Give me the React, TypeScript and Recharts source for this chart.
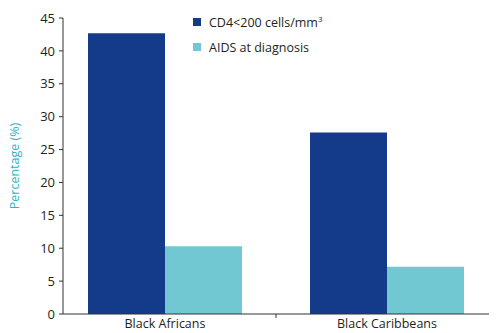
import { BarChart, Bar, XAxis, YAxis } from "recharts";

const categories = ["Black Africans", "Black Caribbeans"];
const cd4Values = [42.7, 27.6];
const aidsValues = [10.3, 7.2];
const yTicks = [0, 5, 10, 15, 20, 25, 30, 35, 40, 45];

const DARK = "#133b8a";
const LIGHT = "#71c8d2";
const TEAL = "#2fb3c2";
const TEXT = "#231f20";
const FONT = "'Open Sans', sans-serif";

const data = categories.map((name, i) => ({
  name,
  cd4: cd4Values[i],
  aids: aidsValues[i],
}));

// band width after the x padding below (426 + 2*9) / 2
const BAND = 222;

function CategoryTick(props: any) {
  const { x, y, payload, index } = props;
  return (
    <g>
      {index < categories.length - 1 && (
        <line x1={x + BAND / 2} x2={x + BAND / 2} y1={y} y2={y + 4} stroke="#333" />
      )}
      <text x={x} y={y + 14} textAnchor="middle" fontSize={12.5} fill={TEXT} fontFamily={FONT}>
        {payload.value}
      </text>
    </g>
  );
}

export default function App() {
  return (
    <div style={{ position: "absolute", left: 0, top: 0, width: 496, height: 333, background: "#fff" }}>
      <BarChart
        width={496}
        height={333}
        data={data}
        margin={{ top: 18, right: 7, bottom: 0, left: 0 }}
        barGap={0}
        barCategoryGap={34}
      >
        <XAxis
          dataKey="name"
          height={19}
          padding={{ left: -9, right: -9 }}
          tickLine={false}
          tickSize={0}
          tickMargin={0}
          axisLine={{ stroke: "#333" }}
          tick={<CategoryTick />}
          interval={0}
        />
        <YAxis
          width={63}
          domain={[0, 45]}
          ticks={yTicks}
          interval={0}
          tickSize={4}
          tickMargin={4}
          axisLine={{ stroke: "#333" }}
          tickLine={{ stroke: "#333" }}
          tick={{ fontSize: 13, fill: TEXT, fontFamily: FONT }}
          label={{
            value: "Percentage (%)",
            angle: -90,
            position: "insideLeft",
            offset: 15,
            style: { textAnchor: "middle", fill: TEAL, fontSize: 12.5, fontFamily: FONT },
          }}
        />
        <Bar dataKey="cd4" fill={DARK} isAnimationActive={false} />
        <Bar dataKey="aids" fill={LIGHT} isAnimationActive={false} />
      </BarChart>
      <div style={{ position: "absolute", left: 193, top: 13, fontFamily: FONT, fontSize: 12.5, color: TEXT }}>
        <div style={{ display: "flex", alignItems: "center", height: 18 }}>
          <span style={{ width: 8, height: 8, background: DARK, marginRight: 8 }} />
          <span>
            CD4&lt;200 cells/mm<sup style={{ fontSize: 8 }}>3</sup>
          </span>
        </div>
        <div style={{ display: "flex", alignItems: "center", height: 18, marginTop: 7 }}>
          <span style={{ width: 8, height: 8, background: LIGHT, marginRight: 8 }} />
          <span>AIDS at diagnosis</span>
        </div>
      </div>
    </div>
  );
}
